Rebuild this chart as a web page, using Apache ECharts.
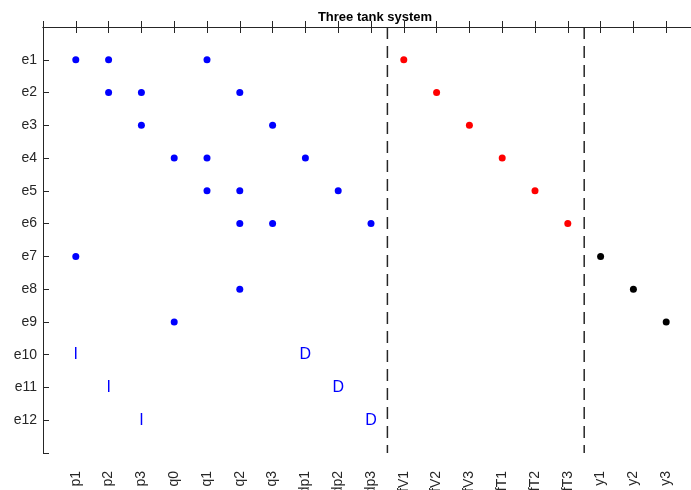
<!DOCTYPE html>
<html>
<head>
<meta charset="utf-8">
<script src="https://cdn.jsdelivr.net/npm/echarts@6/dist/echarts.min.js"></script>
<style>html,body{margin:0;padding:0;background:#fff}#c{width:691px;height:490px}</style>
</head>
<body>
<div id="c"></div>
<script>
var xCategories = ['p1','p2','p3','q0','q1','q2','q3','dp1','dp2','dp3','fV1','fV2','fV3','fT1','fT2','fT3','y1','y2','y3'];
var yCategories = ['e1','e2','e3','e4','e5','e6','e7','e8','e9','e10','e11','e12'];
// [column name, row name]
var bluePoints = [['p1','e1'],['p2','e1'],['q1','e1'],
  ['p2','e2'],['p3','e2'],['q2','e2'],
  ['p3','e3'],['q3','e3'],
  ['q0','e4'],['q1','e4'],['dp1','e4'],
  ['q1','e5'],['q2','e5'],['dp2','e5'],
  ['q2','e6'],['q3','e6'],['dp3','e6'],
  ['p1','e7'],['q2','e8'],['q0','e9']];
var redPoints = [['fV1','e1'],['fV2','e2'],['fV3','e3'],['fT1','e4'],['fT2','e5'],['fT3','e6']];
var blackPoints = [['y1','e7'],['y2','e8'],['y3','e9']];
var textMarks = [['p1','e10','I'],['p2','e11','I'],['p3','e12','I'],['dp1','e10','D'],['dp2','e11','D'],['dp3','e12','D']];
var separators = [10.5, 16.5];

function toXY(p){ return [xCategories.indexOf(p[0]) + 1, yCategories.indexOf(p[1]) + 1].concat(p.slice(2)); }

var chart = echarts.init(document.getElementById('c'));
var axisColor = '#262626';
var font = 'Liberation Sans, Arial, Helvetica, sans-serif';
var series = [
  {type:'scatter', data: bluePoints.map(toXY), symbolSize:7, itemStyle:{color:'#0000ff', opacity:1}, silent:true},
  {type:'scatter', data: redPoints.map(toXY), symbolSize:7, itemStyle:{color:'#ff0000', opacity:1}, silent:true},
  {type:'scatter', data: blackPoints.map(toXY), symbolSize:7, itemStyle:{color:'#000000', opacity:1}, silent:true},
  {type:'scatter', data: textMarks.map(toXY), symbolSize:1, itemStyle:{color:'rgba(0,0,0,0)', opacity:1}, silent:true,
    label:{show:true, position:'inside', formatter:function(p){return p.value[2];}, color:'#0000ff', opacity:1, fontSize:16, fontFamily:font}}
];
separators.forEach(function(s){
  series.push({type:'line', data:[[s,0],[s,13]], symbol:'none', silent:true,
    lineStyle:{color:'#262626', width:1.5, type:[12,7]}});
});

chart.setOption({
  animation:false,
  title:{text:'Three tank system', left:370, top:6, textAlign:'center',
    textStyle:{fontSize:13, fontWeight:'bold', color:'#000', fontFamily:font}},
  grid:{left:43, top:27, width:656, height:426, containLabel:false, outerBoundsMode:'none'},
  xAxis:[
    {type:'value', min:0, max:20, interval:1, position:'bottom',
      axisLine:{lineStyle:{color:axisColor}}, splitLine:{show:false},
      axisTick:{inside:true, length:6, lineStyle:{color:axisColor}},
      axisLabel:{rotate:90, margin:18, color:axisColor, fontSize:14, fontFamily:font, showMinLabel:true, showMaxLabel:true,
        formatter:function(v){ return (v>=1 && v<=xCategories.length) ? xCategories[v-1] : ''; }}},
    {type:'value', min:0, max:20, interval:1, position:'top',
      axisLine:{lineStyle:{color:axisColor}}, splitLine:{show:false},
      axisTick:{inside:true, length:6, lineStyle:{color:axisColor}},
      axisLabel:{show:false}}
  ],
  yAxis:[
    {type:'value', min:0, max:13, interval:1, inverse:true,
      axisLine:{show:true, lineStyle:{color:axisColor}}, splitLine:{show:false},
      axisTick:{show:true, inside:true, length:6, lineStyle:{color:axisColor}},
      axisLabel:{margin:6, color:axisColor, fontSize:14, fontFamily:font,
        formatter:function(v){ return (v>=1 && v<=yCategories.length) ? yCategories[v-1] : ''; }}}
  ],
  series: series
});
</script>
</body>
</html>
